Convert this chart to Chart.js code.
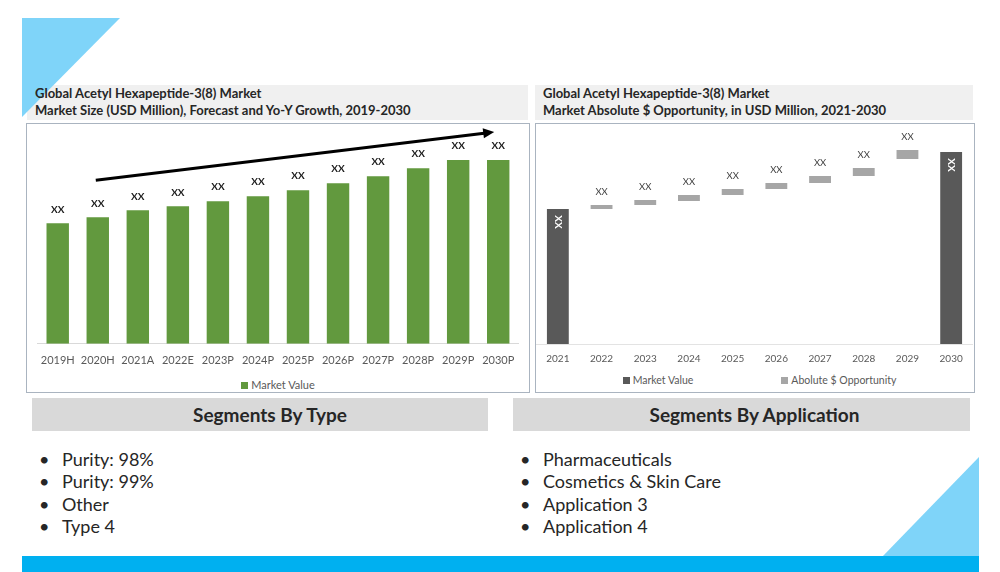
<!DOCTYPE html>
<html>
<head>
<meta charset="utf-8">
<script src="https://cdn.jsdelivr.net/npm/chart.js@4.4.1/dist/chart.umd.min.js"></script>
<style>
  body { margin: 0; width: 1000px; height: 572px; position: relative; overflow: hidden; background: #fff; font-family: Lato, sans-serif; color: #262626; }
  .abs { position: absolute; }
  .tri-top { left: 22px; top: 18px; width: 98px; height: 99px; background: #7fd4f9; clip-path: polygon(0 0, 100% 0, 0 100%); z-index: 2; }
  .tri-bottom { left: 882px; top: 457px; width: 97px; height: 100px; background: #7fd4f9; clip-path: polygon(100% 0, 100% 100%, 0 100%); }
  .blue-bar { left: 22px; top: 556px; width: 957px; height: 20px; background: #00b0f0; }
  .title-band { top: 85px; height: 35px; background: #f0f0f0; }
  .title { font-weight: bold; font-size: 13px; line-height: 17px; z-index: 3; }
  .box { top: 123px; height: 270px; border: 1px solid #aab4c0; box-sizing: border-box; }
  .seg-head { top: 398px; height: 33px; background: #d9d9d9; font-weight: bold; font-size: 19px; line-height: 33px; text-align: center; box-sizing: border-box; }
  .list { top: 448px; font-size: 18px; line-height: 22.4px; margin: 0; padding: 0; list-style: none; }
  .list li span { display: inline-block; width: 23px; }
  .legend { font-size: 11px; color: #595959; white-space: nowrap; }
  .legend i { display: inline-block; width: 7px; height: 7px; margin-right: 3px; vertical-align: 0; }
</style>
</head>
<body>
<div class="abs tri-bottom"></div>
<div class="abs blue-bar"></div>

<div class="abs title-band" style="left:27px;width:501px"></div>
<div class="abs title-band" style="left:535px;width:438px"></div>
<div class="abs tri-top"></div>
<div class="abs title" style="left:35px;top:85px">Global Acetyl Hexapeptide-3(8) Market<br>Market Size (USD Million), Forecast and Yo-Y Growth, 2019-2030</div>
<div class="abs title" style="left:543px;top:85px">Global Acetyl Hexapeptide-3(8) Market<br>Market Absolute $ Opportunity, in USD Million, 2021-2030</div>

<div class="abs box" style="left:26px;width:504px"></div>
<div class="abs box" style="left:535px;width:440px"></div>
<canvas id="sizeChart" class="abs" style="left:31px;top:124px" width="493" height="253"></canvas>
<canvas id="oppChart" class="abs" style="left:536px;top:124px" width="437" height="250"></canvas>
<div id="sizeLegend" class="abs legend" style="left:27px;width:502px;top:378px;text-align:center"></div>
<div id="oppLegend" class="abs legend" style="left:541px;width:437px;top:374px;text-align:center;font-size:10.5px"></div>

<div class="abs seg-head" style="left:32px;width:456px;padding-left:20px">Segments By Type</div>
<div class="abs seg-head" style="left:513px;width:457px;padding-left:26px">Segments By Application</div>
<ul class="abs list" style="left:39px">
  <li><span>•</span>Purity: 98%</li>
  <li><span>•</span>Purity: 99%</li>
  <li><span>•</span>Other</li>
  <li><span>•</span>Type 4</li>
</ul>
<ul class="abs list" style="left:520px">
  <li><span>•</span>Pharmaceuticals</li>
  <li><span>•</span>Cosmetics &amp; Skin Care</li>
  <li><span>•</span>Application 3</li>
  <li><span>•</span>Application 4</li>
</ul>

<script>
// left chart: market size
const sizeYears = ["2019H", "2020H", "2021A", "2022E", "2023P", "2024P", "2025P", "2026P", "2027P", "2028P", "2029P", "2030P"];
const sizeValues = [120, 126, 133, 137, 142, 147, 153, 160, 167, 175, 183, 183];
const sizeLabels = ["XX", "XX", "XX", "XX", "XX", "XX", "XX", "XX", "XX", "XX", "XX", "XX"];
// growth arrow, in (category index, value) terms
const arrowFrom = [0.95, 163];
const arrowTo = [10.9, 211];

// right chart: absolute $ opportunity (waterfall)
const oppYears = ["2021", "2022", "2023", "2024", "2025", "2026", "2027", "2028", "2029", "2030"];
const marketValue = [135, null, null, null, null, null, null, null, null, 192];
const oppStart = [null, 135, 139, 143, 149, 155, 161, 168, 185, null];
const oppEnd = [null, 139, 144, 149, 155, 161, 168, 176, 194, null];
const oppLabels = ["XX", "XX", "XX", "XX", "XX", "XX", "XX", "XX", "XX", "XX"];

const xxLabels = {
  id: "xxLabels",
  afterDatasetsDraw(chart) {
    const ctx = chart.ctx;
    chart.data.datasets.forEach((ds, di) => {
      const meta = chart.getDatasetMeta(di);
      meta.data.forEach((bar, i) => {
        if (ds.data[i] == null || !ds.valueLabels) return;
        const top = Math.min(bar.y, bar.base);
        ctx.save();
        ctx.textAlign = "center";
        ctx.textBaseline = "middle";
        if (ds.labelInside) {
          ctx.translate(bar.x, top + 13);
          ctx.rotate(Math.PI / 2);
          ctx.fillStyle = "#ffffff";
          ctx.font = "bold 10px Lato";
          ctx.fillText(ds.valueLabels[i], 0, 0);
        } else {
          ctx.fillStyle = ds.labelColor;
          ctx.font = ds.labelFont;
          ctx.fillText(ds.valueLabels[i], bar.x, top - ds.labelGap);
        }
        ctx.restore();
      });
    });
  }
};

const growthArrow = {
  id: "growthArrow",
  afterDatasetsDraw(chart) {
    const { ctx, scales } = chart;
    const x1 = scales.x.getPixelForValue(arrowFrom[0]), y1 = scales.y.getPixelForValue(arrowFrom[1]);
    const x2 = scales.x.getPixelForValue(arrowTo[0]), y2 = scales.y.getPixelForValue(arrowTo[1]);
    const a = Math.atan2(y2 - y1, x2 - x1);
    ctx.save();
    ctx.strokeStyle = "#000";
    ctx.fillStyle = "#000";
    ctx.lineWidth = 3;
    ctx.beginPath();
    ctx.moveTo(x1, y1);
    ctx.lineTo(x2 - 8 * Math.cos(a), y2 - 8 * Math.sin(a));
    ctx.stroke();
    ctx.beginPath();
    ctx.moveTo(x2, y2);
    ctx.lineTo(x2 - 11 * Math.cos(a) + 5 * Math.sin(a), y2 - 11 * Math.sin(a) - 5 * Math.cos(a));
    ctx.lineTo(x2 - 11 * Math.cos(a) - 5 * Math.sin(a), y2 - 11 * Math.sin(a) + 5 * Math.cos(a));
    ctx.closePath();
    ctx.fill();
    ctx.restore();
  }
};

function htmlLegend(el, chart, gap) {
  el.innerHTML = chart.data.datasets.map(ds =>
    '<span><i style="background:' + ds.backgroundColor + '"></i>' + ds.label + '</span>'
  ).join('<span style="display:inline-block;width:' + gap + 'px"></span>');
}

const sizeChart = new Chart(document.getElementById("sizeChart"), {
  type: "bar",
  data: {
    labels: sizeYears,
    datasets: [{
      label: "Market Value", data: sizeValues, backgroundColor: "#62993e",
      barPercentage: 0.56, categoryPercentage: 1,
      valueLabels: sizeLabels, labelColor: "#1a1a1a", labelFont: "bold 10px Lato", labelGap: 14
    }]
  },
  options: {
    responsive: false, animation: false,
    layout: { padding: { top: 6 } },
    plugins: { legend: { display: false }, tooltip: { enabled: false } },
    scales: {
      x: { grid: { display: false, drawTicks: false }, border: { color: "#d9d9d9" }, ticks: { color: "#595959", font: { family: "Lato", size: 11 }, padding: 10, maxRotation: 0 } },
      y: { display: false, min: 0, max: 213 }
    }
  },
  plugins: [xxLabels, growthArrow]
});
htmlLegend(document.getElementById("sizeLegend"), sizeChart, 0);

const oppChart = new Chart(document.getElementById("oppChart"), {
  type: "bar",
  data: {
    labels: oppYears,
    datasets: [
      { label: "Market Value", data: marketValue, backgroundColor: "#595959", grouped: false,
        barPercentage: 0.5, categoryPercentage: 1, valueLabels: oppLabels, labelInside: true },
      { label: "Abolute $ Opportunity", data: oppStart.map((s, i) => s == null ? null : [s, oppEnd[i]]),
        backgroundColor: "#a6a6a6", grouped: false, barPercentage: 0.5, categoryPercentage: 1,
        valueLabels: oppLabels, labelColor: "#404040", labelFont: "9.5px Lato", labelGap: 13 }
    ]
  },
  options: {
    responsive: false, animation: false,
    layout: { padding: { top: 6 } },
    plugins: { legend: { display: false }, tooltip: { enabled: false } },
    scales: {
      x: { grid: { display: false, drawTicks: false }, border: { color: "#e3e3e3" }, ticks: { color: "#595959", font: { family: "Lato", size: 10 }, padding: 9, maxRotation: 0 } },
      y: { display: false, min: 0, max: 214 }
    }
  },
  plugins: [xxLabels]
});
htmlLegend(document.getElementById("oppLegend"), oppChart, 88);
</script>
</body>
</html>
